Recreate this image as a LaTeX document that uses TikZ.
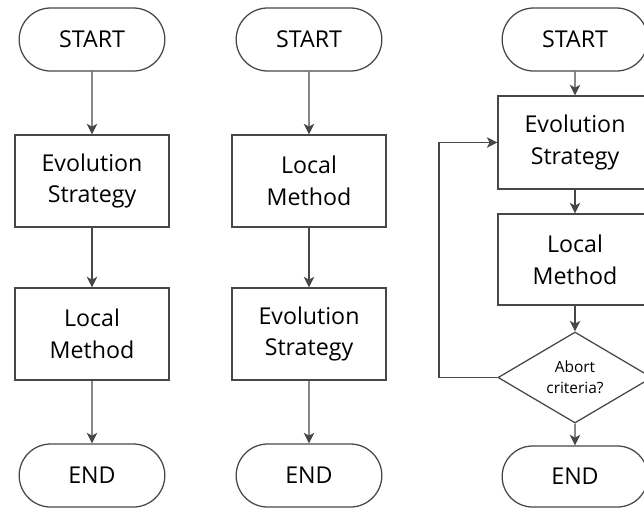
\documentclass[tikz,border=0pt]{standalone}
\usepackage{fontspec}
\setmainfont{Open Sans}
\usetikzlibrary{shapes.misc,shapes.geometric,arrows.meta}
\definecolor{linegray}{HTML}{474747}

\begin{document}
\begin{tikzpicture}[x=0.025cm,y=-0.025cm,
    term/.style={rounded rectangle, draw=linegray, line width=0.9pt, minimum width=3.875cm, minimum height=1.575cm, font=\fontsize{16.5}{22}\selectfont},
    proc/.style={rectangle, draw=linegray, line width=0.9pt, minimum width=3.85cm, minimum height=2.3cm, align=center, font=\fontsize{16.5}{22.5}\selectfont},
    decide/.style={diamond, draw=linegray, line width=0.9pt, shape aspect=1.7, inner sep=0pt, minimum width=3.85cm, minimum height=2.275cm, align=center, font=\fontsize{11}{15}\selectfont},
    flow/.style={draw=linegray, line width=0.9pt, -{Stealth[length=7.5pt,width=7.5pt,inset=2pt]}}]
    \useasboundingbox (0,0) rectangle (644,508);
    \clip (0,0) rectangle (644,508);
			% first variant
			\node[term] (s1) at (92,39.5) {START};
			\node[proc] (e1) at (92,181) {Evolution\\Strategy};
			\node[proc] (l1) at (92,334) {Local\\Method};
			\node[term] (n1) at (92,475.5) {END};
			\draw[flow] (s1) -- (e1);
			\draw[flow] (e1) -- (l1);
			\draw[flow] (l1) -- (n1);
			% second variant
			\node[term] (s2) at (309,39.5) {START};
			\node[proc] (l2) at (309,181) {Local\\Method};
			\node[proc] (e2) at (309,334) {Evolution\\Strategy};
			\node[term] (n2) at (309,475.5) {END};
			\draw[flow] (s2) -- (l2);
			\draw[flow] (l2) -- (e2);
			\draw[flow] (e2) -- (n2);
			% third variant with loop
			\node[term] (s3) at (575,39.5) {START};
			\node[proc, minimum height=2.325cm] (e3) at (575,142.5) {Evolution\\Strategy};
			\node[proc, minimum height=2.275cm] (l3) at (575,259.5) {Local\\Method};
			\node[decide] (d3) at (575,377.5) {Abort\\criteria?};
			\node[term, minimum height=1.525cm] (n3) at (575,476.5) {END};
			\coordinate (back) at (439,377.5);
			\draw[flow] (s3) -- (e3);
			\draw[flow] (e3) -- (l3);
			\draw[flow] (l3) -- (d3);
			\draw[flow] (d3) -- (n3);
			\draw[flow] (d3.west) -- (back) |- (e3.west);
\end{tikzpicture}
\end{document}
